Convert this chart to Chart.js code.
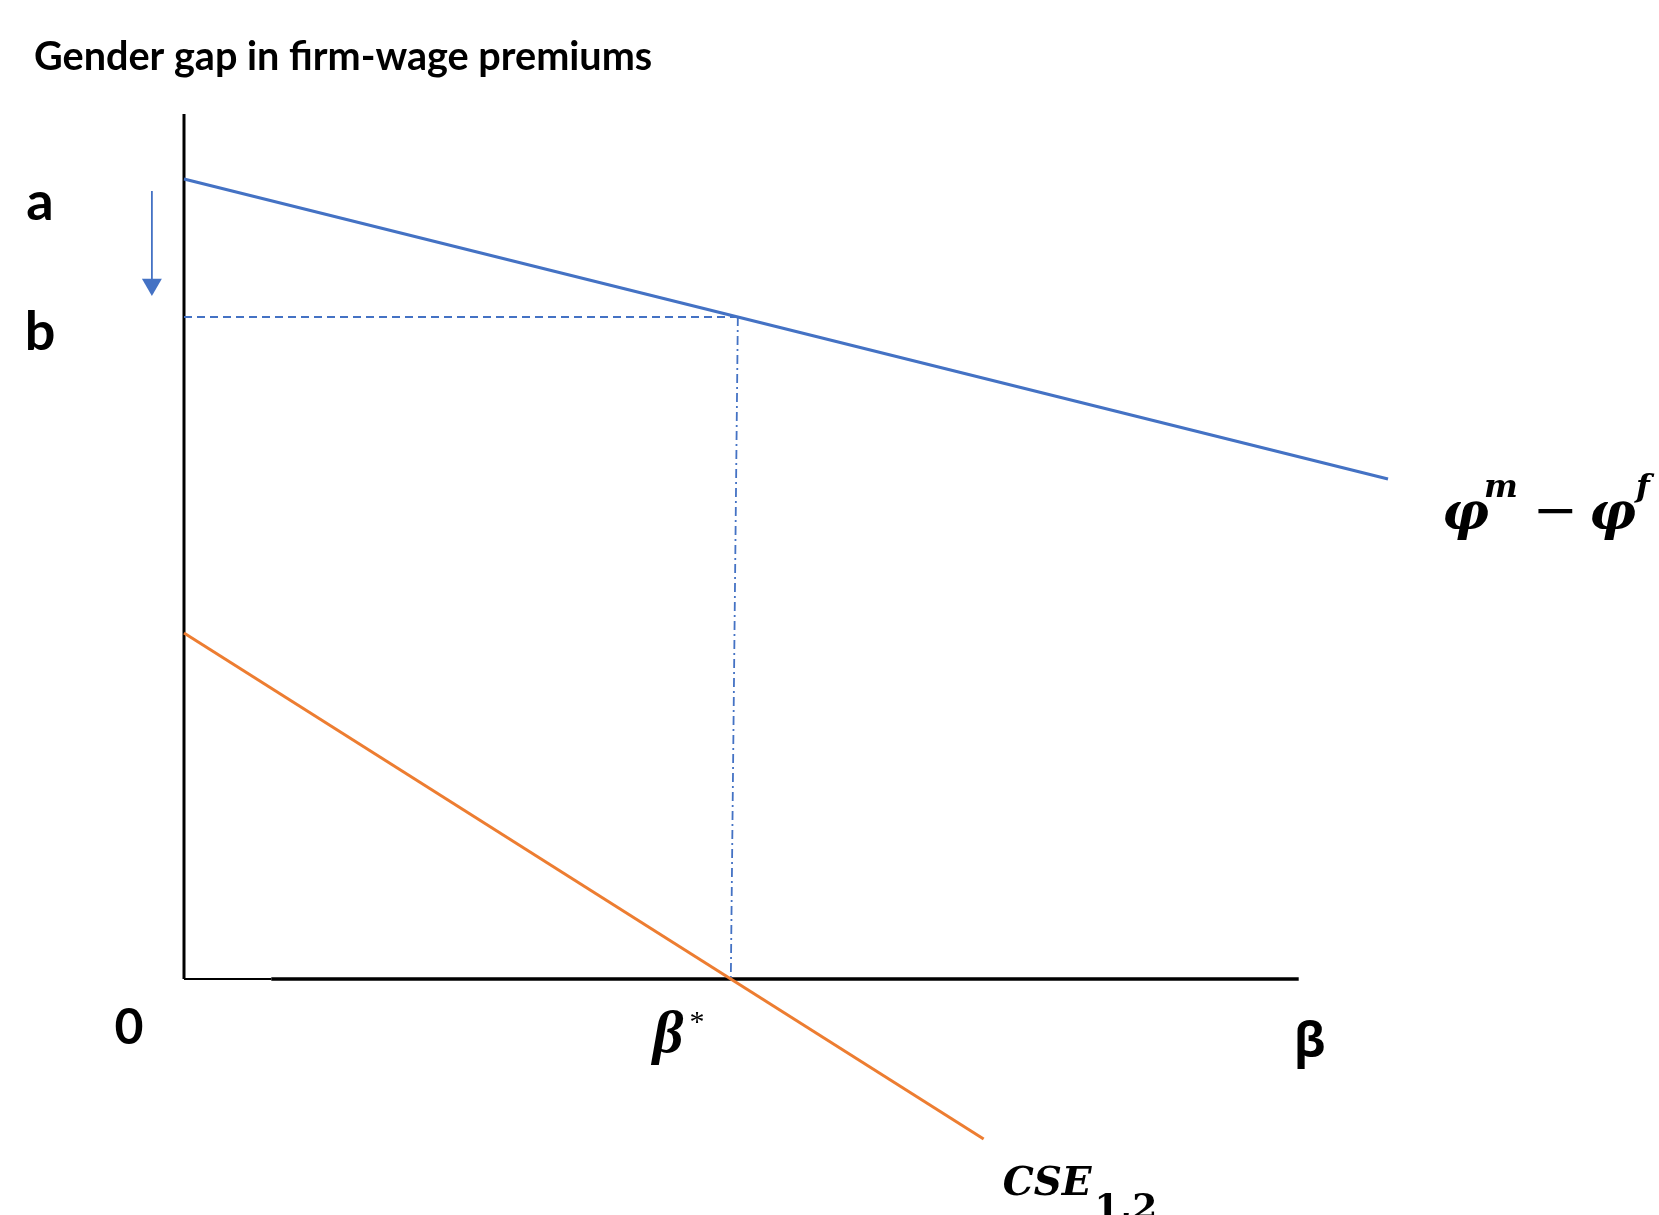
<!DOCTYPE html>
<html>
<head>
<meta charset="utf-8">
<script src="https://cdn.jsdelivr.net/npm/chart.js@4.4.1/dist/chart.umd.min.js"></script>
<style>
  html, body { margin: 0; padding: 0; background: #fff; }
  canvas { display: block; }
</style>
</head>
<body>
<canvas id="c" width="1659" height="1215"></canvas>
<script>
// Gender gap in firm-wage premiums (phi_m - phi_f) along beta
const gapBeta = [0, 12];
const gapValue = [8.0, 5.0];
// CSE_{1,2} along beta
const cseBeta = [0, 7.97];
const cseValue = [3.46, -1.6];
// beta* (where CSE crosses zero) and the gap levels a and b
const betaStarTop = 5.52;
const betaStarBase = 5.45;
const levelA = 8.0;
const levelB = 6.62;
// downward arrow from a toward b
const arrowBeta = -0.32;
const arrowFrom = 7.88;
const arrowTo = 6.945;
// axis extents (the first stretch of the beta axis is drawn thinner)
const axisTop = 8.65;
const axisJoin = 0.87;
const axisRight = 11.11;
// texts
const titleText = 'Gender gap in firm-wage premiums';
const tickLabels = { origin: '0', beta: 'β', a: 'a', b: 'b' };

const BLUE = '#4472C4';
const ORANGE = '#ED7D31';

function seg(xs, ys) { return xs.map((v, i) => ({ x: v, y: ys[i] })); }

const labelPlugin = {
  id: 'labels',
  afterDraw(chart) {
    const ctx = chart.ctx;
    const px = v => chart.scales.x.getPixelForValue(v);
    const py = v => chart.scales.y.getPixelForValue(v);
    ctx.save();
    ctx.fillStyle = '#000';
    ctx.textBaseline = 'alphabetic';

    // title, fitted to its box width
    ctx.textAlign = 'left';
    let size = 40;
    ctx.font = `bold ${size}px Lato, "Open Sans", sans-serif`;
    size = size * 619 / ctx.measureText(titleText).width;
    ctx.font = `bold ${size.toFixed(1)}px Lato, "Open Sans", sans-serif`;
    ctx.fillText(titleText, 34, 70);

    // a and b on the vertical axis
    ctx.textAlign = 'center';
    ctx.font = 'bold 54px Lato, "Open Sans", sans-serif';
    ctx.fillText(tickLabels.a, 40, py(levelA) + 41);
    ctx.fillText(tickLabels.b, 40, py(levelB) + 33);
    // origin
    ctx.font = 'bold 50px Lato, "Open Sans", sans-serif';
    ctx.fillText(tickLabels.origin, px(0) - 55, py(0) + 65);
    // beta at axis end
    ctx.font = 'bold 48px "Open Sans", Lato, sans-serif';
    ctx.fillText(tickLabels.beta, px(axisRight) + 11, py(0) + 78);

    // beta*
    ctx.textAlign = 'left';
    ctx.font = 'italic bold 60px "Liberation Serif", serif';
    const bx = px(betaStarBase) - 78, by = py(0) + 73;
    ctx.fillText('β', bx, by);
    const bw = ctx.measureText('β').width;
    ctx.font = '30px "Liberation Serif", serif';
    ctx.fillText('*', bx + bw + 6, by - 21);

    // phi^m - phi^f
    const ex = px(gapBeta[1]);
    const base = py(gapValue[1]) + 50;
    const big = 'italic bold 52px "DejaVu Serif", serif';
    const sup = 'italic bold 32px "DejaVu Serif", serif';
    ctx.font = big;
    ctx.fillText('φ', ex + 54, base);
    ctx.font = sup;
    ctx.fillText('m', ex + 96, base - 32);
    ctx.textAlign = 'center';
    ctx.font = '54px "DejaVu Serif", serif';
    ctx.fillText('−', ex + 167, base - 1);
    ctx.textAlign = 'left';
    ctx.font = big;
    ctx.fillText('φ', ex + 201, base);
    ctx.font = sup;
    ctx.fillText('f', ex + 248, base - 32);

    // CSE_{1,2}
    let cx = px(cseBeta[1]) + 19;
    const cb = py(cseValue[1]) + 56;
    ctx.font = 'italic bold 39px "DejaVu Serif", serif';
    ctx.fillText('CSE', cx, cb);
    cx += ctx.measureText('CSE').width + 3;
    ctx.font = 'bold 36px "DejaVu Serif", serif';
    ctx.fillText('1,2', cx, cb + 24);

    ctx.restore();
  }
};

const line = (data, color, width, order, extra) => Object.assign({
  data, borderColor: color, backgroundColor: color, borderWidth: width,
  showLine: true, pointRadius: 0, clip: false, order, borderCapStyle: 'butt'
}, extra || {});

new Chart(document.getElementById('c'), {
  type: 'scatter',
  data: {
    datasets: [
      line(seg([0, 0], [axisTop, 0]), '#000', 3, 5),
      line(seg([0, axisJoin], [0, 0]), '#000', 2, 5),
      line(seg([axisJoin, axisRight], [0, 0]), '#000', 3.5, 5),
      line(seg([0, betaStarTop], [levelB, levelB]), BLUE, 1.8, 4, { borderDash: [8, 5] }),
      line(seg([betaStarTop, betaStarBase], [levelB, 0]), BLUE, 1.8, 4, { borderDash: [9, 4, 2, 4] }),
      line(seg(cseBeta, cseValue), ORANGE, 3, 2),
      line(seg(gapBeta, gapValue), BLUE, 3.2, 1),
      line(seg([arrowBeta, arrowBeta], [arrowFrom, arrowTo]), BLUE, 1.8, 1, {
        pointRadius: [0, 11.5], pointStyle: 'triangle', rotation: 180,
        pointBorderWidth: 0, pointBackgroundColor: BLUE, pointBorderColor: BLUE
      })
    ]
  },
  options: {
    responsive: false,
    animation: false,
    devicePixelRatio: 1,
    // x runs from -0.6 so the arrow sits inside the plotting area; 0 lands at 184px
    layout: { padding: { left: 123.8, right: 271, top: 114, bottom: 76 } },
    scales: {
      x: { type: 'linear', min: -0.6, max: 12, display: false },
      y: { type: 'linear', min: -1.6, max: 8.65, display: false }
    },
    plugins: { legend: { display: false }, tooltip: { enabled: false } },
    events: []
  },
  plugins: [labelPlugin]
});
</script>
</body>
</html>
